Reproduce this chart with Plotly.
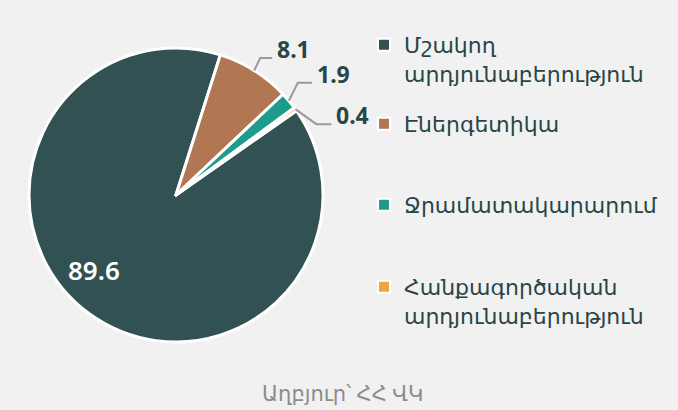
import math
import plotly.graph_objects as go

# ---------------- data ----------------
CATEGORIES = [
    "Մշակող<br>արդյունաբերություն",
    "Էներգետիկա",
    "Ջրամատակարարում",
    "Հանքագործական<br>արդյունաբերություն",
]
VALUES = [89.6, 8.1, 1.9, 0.4]
SOURCE = "Աղբյուր՝ ՀՀ ՎԿ"

# ---------------- style ----------------
COLORS = ["#315153", "#b17752", "#1e9c8b", "#e8a83f"]
TEXT_DARK = "#294547"
BG = "#f1f1f1"
FONT = "Noto Sans, DejaVu Sans, sans-serif"

W, H = 678, 410
CX, CY, R = 176, 195, 147
ROTATION = 55

# label placement (style): elbow offsets from slice edge, horizontal run
ELBOWS = [None, (6, -12.5), (9, -18), (21, 15)]
HRUN = [0, 12, 14, 15]
# big inside label: angular offset from slice middle and radius fraction
INSIDE_DANG, INSIDE_RFRAC = 11.3, 0.755

# legend entry tops (px from top of figure)
LEG_TOPS = [24, 103, 184, 266]
LEG_X = 364

fig = go.Figure()
fig.add_trace(go.Pie(
    labels=CATEGORIES,
    values=VALUES,
    sort=False,
    direction="clockwise",
    rotation=ROTATION,
    marker=dict(colors=COLORS, line=dict(color="white", width=3)),
    textinfo="none",
    domain=dict(x=[(CX - R) / W, (CX + R) / W],
                y=[(H - CY - R) / H, (H - CY + R) / H]),
    showlegend=False,
    hoverinfo="label+value",
))

# legend proxies, one legend each so spacing can follow the reference
for i, (name, col) in enumerate(zip(CATEGORIES, COLORS)):
    lg = "legend" if i == 0 else f"legend{i + 1}"
    fig.add_trace(go.Scatter(
        x=[None], y=[None], mode="markers", name=name,
        marker=dict(symbol="square", size=12, color=col,
                    line=dict(color="white", width=2)),
        legend=lg, showlegend=True, hoverinfo="skip",
    ))

# value labels, positioned from the slice angles computed from the values
total = sum(VALUES)
cum = 0.0
shapes = []
annotations = []
for i, v in enumerate(VALUES):
    mid = ROTATION + 360 * (cum + v / 2) / total
    cum += v
    if ELBOWS[i] is None:
        th = math.radians(mid + INSIDE_DANG)
        annotations.append(dict(
            x=CX + INSIDE_RFRAC * R * math.sin(th),
            y=CY - INSIDE_RFRAC * R * math.cos(th),
            xref="x", yref="y", text=f"{v}", showarrow=False,
            xanchor="center", yanchor="middle",
            font=dict(size=26, color="white", family=FONT, weight=600),
        ))
        continue
    th = math.radians(mid)
    sx = CX + R * math.sin(th)
    sy = CY - R * math.cos(th)
    ex, ey = sx + ELBOWS[i][0], sy + ELBOWS[i][1]
    hx = ex + HRUN[i]
    shapes.append(dict(
        type="path", xref="x", yref="y",
        path=f"M{sx},{sy} L{ex},{ey} L{hx},{ey}",
        line=dict(color="#9a9a9a", width=2),
    ))
    annotations.append(dict(
        x=hx + 3, y=ey - 9, xref="x", yref="y",
        text=f"{v}", showarrow=False, xanchor="left", yanchor="middle",
        font=dict(size=23, color=TEXT_DARK, family=FONT, weight=700),
    ))

annotations.append(dict(
    x=342, y=393, xref="x", yref="y",
    text=SOURCE, showarrow=False, xanchor="center", yanchor="middle",
    font=dict(size=21, color="#8c8c8c", family=FONT),
))

legend_common = dict(
    xref="container", yref="container", xanchor="left", yanchor="top",
    bgcolor="rgba(0,0,0,0)", borderwidth=0, valign="top",
    font=dict(size=22, color=TEXT_DARK, family=FONT),
    itemclick=False, itemdoubleclick=False,
)
legends = {}
for i, top in enumerate(LEG_TOPS):
    key = "legend" if i == 0 else f"legend{i + 1}"
    legends[key] = dict(legend_common, x=LEG_X / W, y=1 - top / H)

fig.update_layout(
    width=W, height=H,
    margin=dict(l=0, r=0, t=0, b=0, pad=0, autoexpand=False),
    paper_bgcolor=BG, plot_bgcolor=BG,
    xaxis=dict(range=[0, W], visible=False, fixedrange=True),
    yaxis=dict(range=[H, 0], visible=False, fixedrange=True),
    shapes=shapes,
    annotations=annotations,
    **legends,
)

fig.write_html(
    "out.html",
    config={"displayModeBar": False},
    post_script="document.body.style.margin='0';document.body.style.padding='0';",
)
